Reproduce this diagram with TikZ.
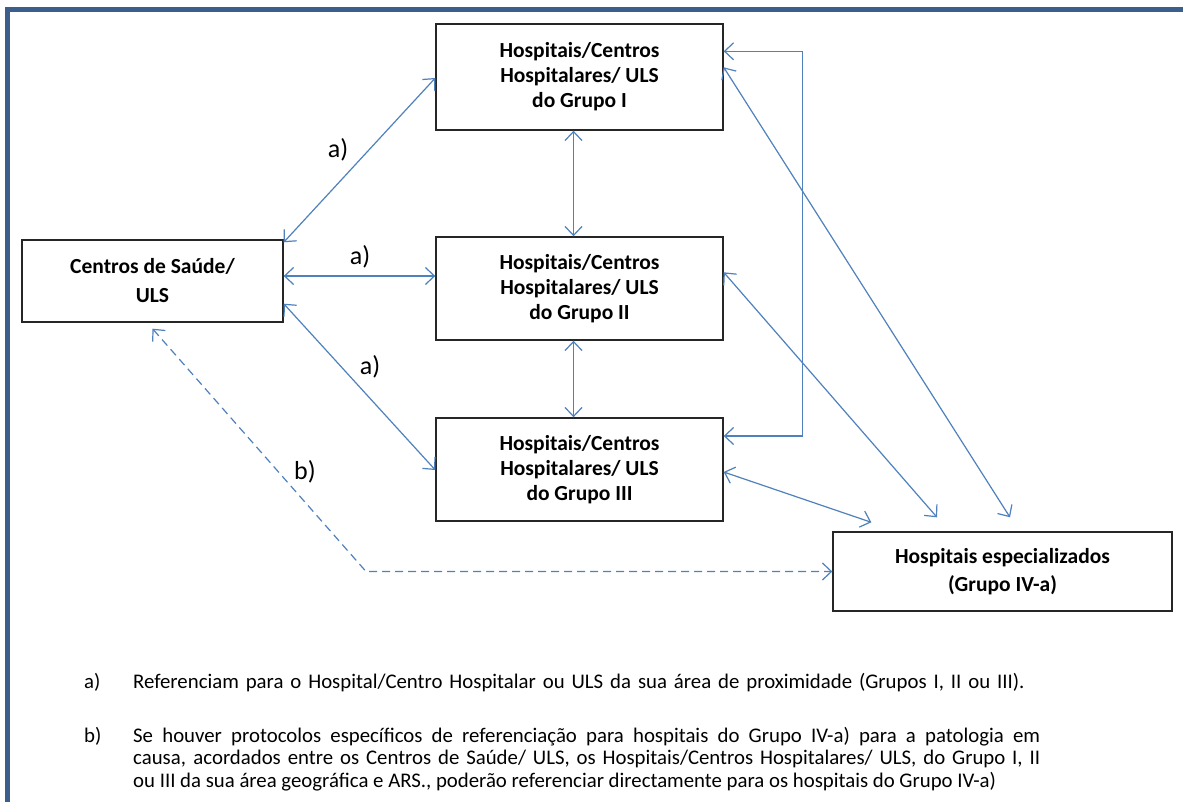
\documentclass[tikz,border=0pt]{standalone}
\usepackage{fontspec}
\setmainfont{Carlito}
\usetikzlibrary{arrows.meta,positioning,calc}
\definecolor{arrowblue}{RGB}{79,129,189}
\definecolor{framecol}{RGB}{59,94,140}
\tikzset{
  box/.style={draw=black!85, line width=1.4pt, align=center, font=\fontsize{21.5}{25}\selectfont\bfseries, inner sep=0pt},
  link/.style={draw=arrowblue, line width=1.2pt, {Straight Barb[length=9pt,width=17pt]}-{Straight Barb[length=9pt,width=17pt]}},
  dlink/.style={link, dash pattern=on 8pt off 5pt},
  lab/.style={font=\fontsize{26}{28}\selectfont, inner sep=0pt},
  note/.style={font=\fontsize{20.8}{22.5}\selectfont, inner sep=0pt, anchor=north west}
}
\begin{document}
\begin{tikzpicture}[x=1pt,y=-1pt]
\useasboundingbox (0,0) rectangle (1183,802);
\fill[white] (0,0) rectangle (1183,802);
% frame
\draw[framecol, line width=5pt] (7.5,802) -- (7.5,10) -- (1183,10);
% boxes
\node[box, minimum width=287pt, minimum height=106pt] (G1) at (579.5,77) {Hospitais/Centros\\Hospitalares/ ULS\\do Grupo I};
\node[box, minimum width=287pt, minimum height=103pt] (G2) at (579.5,288.5) {Hospitais/Centros\\Hospitalares/ ULS\\do Grupo II};
\node[box, minimum width=287pt, minimum height=103pt] (G3) at (579.5,469.5) {Hospitais/Centros\\Hospitalares/ ULS\\do Grupo III};
\node[box, minimum width=261pt, minimum height=82pt, font=\fontsize{21.5}{29}\selectfont\bfseries] (CS) at (152.5,281) {Centros de Saúde/\\ULS};
\node[box, minimum width=339pt, minimum height=79pt, font=\fontsize{21.5}{28}\selectfont\bfseries] (HE) at (1002.5,571.5) {Hospitais especializados\\(Grupo IV-a)};
% connectors
\draw[link] ([yshift=-3pt]CS.north east) -- ([yshift=-1pt]G1.west);
\draw[link] ([yshift=5pt]CS.east) -- ([yshift=12.5pt]G2.west);
\draw[link] ([yshift=19pt]CS.south east) -- ([yshift=-0.5pt]G3.west);
\draw[link] ([xshift=-6pt]G1.south) -- ([xshift=-6pt]G2.north);
\draw[link] ([xshift=-6pt]G2.south) -- ([xshift=-6pt]G3.north);
\draw[link] ([yshift=-28pt]G1.north east) -- ++(79,0) |- ([yshift=33.5pt]G3.east);
\draw[link] ([yshift=-44pt]G1.north east) -- ([shift={(7.5pt,14pt)}]HE.north);
\draw[link] ([yshift=-36pt]G2.north east) -- ([shift={(-65.5pt,14pt)}]HE.north);
\draw[link] ([yshift=-2.5pt]G3.east) -- ([shift={(39pt,9pt)}]HE.north west);
\coordinate (bend) at (366,571.5);
\draw[dlink] ([yshift=-6pt]CS.south) -- (bend) -- (HE.west);
% labels
\node[lab] (la1) at (338,150) {a)};
\node[lab] (la2) at (360,257) {a)};
\node[lab] (la3) at (370,367) {a)};
\node[lab] (lb) at (305,472) {b)};
% notes
\node[note] (na) at (84,673) {a)};
\node[note, text width=907pt] (ta) at (133,673) {Referenciam para o Hospital/Centro Hospitalar ou ULS da sua área de proximidade (Grupos I, II ou III).};
\node[note] (nb) at (84,727) {b)};
\node[note, text width=907pt, align=justify] (tb) at (133,727) {Se houver protocolos específicos de referenciação para hospitais do Grupo IV-a) para a patologia em\linebreak causa, acordados entre os Centros de Saúde/ ULS, os Hospitais/Centros Hospitalares/ ULS, do Grupo I, II\linebreak ou III da sua área geográfica e ARS., poderão referenciar directamente para os hospitais do Grupo IV-a)};
\end{tikzpicture}
\end{document}
